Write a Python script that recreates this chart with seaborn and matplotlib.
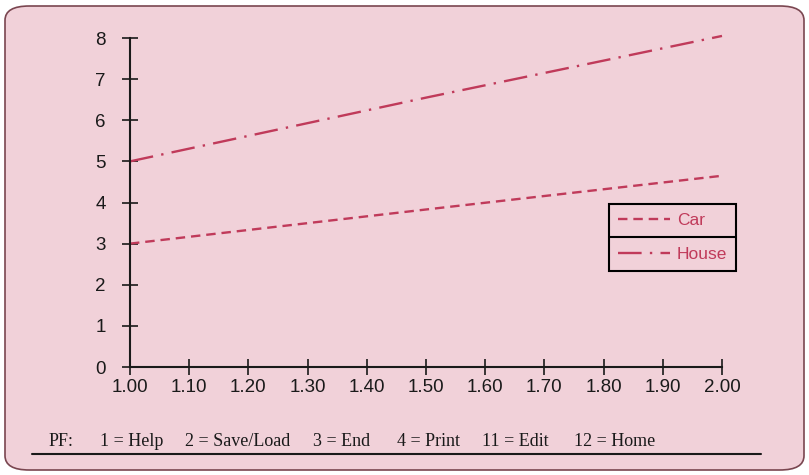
import numpy as np
import pandas as pd
import matplotlib
matplotlib.use("Agg")
import matplotlib.pyplot as plt
from matplotlib.patches import FancyBboxPatch
from matplotlib.lines import Line2D
import seaborn as sns

# 數據
x_vals = [1.00, 1.50, 2.00]
car_vals = [3.00, 3.83, 4.65]
house_vals = [5.00, 6.55, 8.05]
x_ticks = [1.00, 1.10, 1.20, 1.30, 1.40, 1.50, 1.60, 1.70, 1.80, 1.90, 2.00]
y_ticks = [0, 1, 2, 3, 4, 5, 6, 7, 8]
series_names = ["Car", "House"]
pf_labels = ["PF:", "1 = Help", "2 = Save/Load", "3 = End", "4 = Print", "11 = Edit", "12 = Home"]

sns.set_style("ticks")
plt.rcParams["font.family"] = ["Liberation Sans", "DejaVu Sans"]

bg = "#f1d1d9"
line_col = "#c03a5a"

df = pd.DataFrame({
    "x": x_vals * 2,
    "value": car_vals + house_vals,
    "item": [series_names[0]] * len(x_vals) + [series_names[1]] * len(x_vals),
})

fig = plt.figure(figsize=(8.09, 4.75), dpi=100)
fig.patch.set_facecolor("white")

# 圓角背景框
frame = FancyBboxPatch((5 / 809, 5 / 475), 799 / 809, 464 / 475,
                       boxstyle="round,pad=0,rounding_size=0.03",
                       transform=fig.transFigure, facecolor=bg,
                       edgecolor="#7a4650", linewidth=1.2, zorder=-5)
fig.patches.append(frame)

ax = fig.add_axes([130 / 809, 1 - 367 / 475, 592 / 809, 329 / 475])
ax.set_facecolor("none")
ax.set_zorder(2)

sns.lineplot(data=df, x="x", y="value", hue="item", style="item",
             palette={"Car": line_col, "House": line_col},
             dashes={"Car": (4, 2.5), "House": (10, 3.5, 1, 3.5)},
             linewidth=1.7, legend=False, ax=ax, clip_on=False)

ax.set_xlim(1.0, 2.0)
ax.set_ylim(0, 8)
ax.set_xticks(x_ticks)
ax.set_xticklabels([f"{v:.2f}" for v in x_ticks])
ax.set_yticks(y_ticks)
ax.set_xlabel("")
ax.set_ylabel("")
for s in ["top", "right"]:
    ax.spines[s].set_visible(False)
for s in ["left", "bottom"]:
    ax.spines[s].set_linewidth(1.5)
    ax.spines[s].set_color("#1a1a1a")
ax.tick_params(axis="both", direction="inout", length=11, width=1.2,
               colors="#1a1a1a", labelsize=13.5)
ax.tick_params(axis="y", pad=12)
ax.tick_params(axis="x", pad=3)

# 圖例
handles = [Line2D([], [], color=line_col, lw=1.7, dashes=(4, 2.5)),
           Line2D([], [], color=line_col, lw=1.7, dashes=(10, 3.5, 1, 3.5))]
leg = ax.legend(handles, series_names, loc="upper left",
                bbox_to_anchor=(609 / 809, 1 - 204 / 475),
                bbox_transform=fig.transFigure, frameon=True, fancybox=False,
                edgecolor="black", facecolor=bg, framealpha=1,
                fontsize=12.5, handlelength=3.0, labelspacing=1.1,
                borderpad=0.5, handletextpad=0.4, borderaxespad=0)
leg.get_frame().set_linewidth(1.5)
for t in leg.get_texts():
    t.set_color(line_col)
fig.canvas.draw()
bb = leg.get_window_extent().transformed(fig.transFigure.inverted())
ymid = (bb.y0 + bb.y1) / 2
fig.add_artist(Line2D([bb.x0, bb.x1], [ymid, ymid], color="black", lw=1.5,
                      transform=fig.transFigure, zorder=10))

# 功能鍵提示
pf_x = [49, 100, 185, 313, 397, 482, 574]
for label, px in zip(pf_labels, pf_x):
    fig.text(px / 809, 1 - 446 / 475, label, fontsize=13,
             family=["Liberation Serif", "DejaVu Serif"], color="#1a1a1a",
             va="baseline", ha="left")
fig.add_artist(Line2D([32 / 809, 761 / 809], [1 - 454 / 475, 1 - 454 / 475],
                      color="#1a1a1a", lw=1.5, transform=fig.transFigure))

fig.savefig("out.png", dpi=100, facecolor=fig.get_facecolor())
plt.close(fig)
